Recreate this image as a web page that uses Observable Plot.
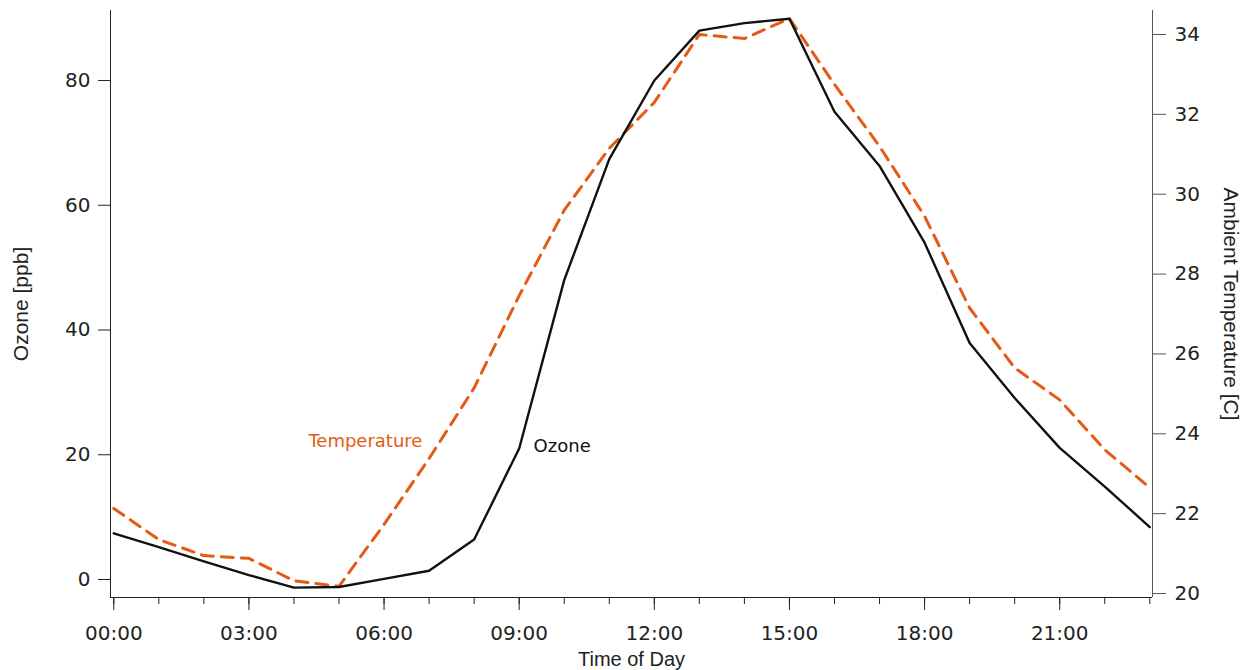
<!DOCTYPE html>
<html>
<head>
<meta charset="utf-8">
<script src="https://cdn.jsdelivr.net/npm/d3@7"></script>
<script src="https://cdn.jsdelivr.net/npm/@observablehq/plot@0.6"></script>
<style>
  html, body { margin: 0; padding: 0; background: #fff; }
  #chart { width: 1244px; height: 670px; overflow: hidden; }
</style>
</head>
<body>
<div id="chart"></div>
<script>
// Hourly diurnal profile
const hours = [0, 1, 2, 3, 4, 5, 6, 7, 8, 9, 10, 11, 12, 13, 14, 15, 16, 17, 18, 19, 20, 21, 22, 23];
const ozone = [7.4, 5.2, 2.9, 0.7, -1.3, -1.2, 0.1, 1.4, 6.4, 21.0, 48.0, 67.4, 80.0, 88.0, 89.2, 89.9, 75.0, 66.3, 54.0, 37.9, 29.1, 21.1, 14.9, 8.4];
const temperature = [22.13, 21.35, 20.95, 20.88, 20.32, 20.18, 21.73, 23.38, 25.15, 27.46, 29.6, 31.15, 32.3, 34.0, 33.9, 34.4, 32.75, 31.2, 29.45, 27.15, 25.65, 24.85, 23.6, 22.65];

// Tick values
const majorHours = [0, 3, 6, 9, 12, 15, 18, 21];
const ozoneTicks = [0, 20, 40, 60, 80];
const tempTicks = [20, 22, 24, 26, 28, 30, 32, 34];

const xDomain = [-0.073, 23.06];
const yDomain = [-2.886, 91.22];

// Temperature shares the plot's y scale through this linear mapping (right axis)
const tempToOzone = d3.scaleLinear().domain([20, 34]).range([-2.245, 87.37]);

const rows = hours.map((h, i) => ({hour: h, ozone: ozone[i], temp: temperature[i]}));
const hhmm = h => String(h).padStart(2, "0") + ":00";

const ink = "#222";
const orange = "#e35b16";
const titleFont = "Liberation Sans";

const chart = Plot.plot({
  width: 1244,
  height: 670,
  marginLeft: 110,
  marginRight: 92,
  marginTop: 10,
  marginBottom: 73,
  x: {domain: xDomain},
  y: {domain: yDomain},
  style: {fontFamily: "DejaVu Sans", fontSize: "20px", color: ink, background: "#fff"},
  marks: [
    // hour ticks and labelled 3-hour ticks
    Plot.axisX(hours, {tickSize: 7, tickFormat: () => "", label: null}),
    Plot.axisX(majorHours, {tickSize: 13, tickPadding: 15, tickFormat: hhmm, fontSize: 20, label: null}),
    // left ozone axis
    Plot.axisY(ozoneTicks, {anchor: "left", tickSize: 12, tickPadding: 8, fontSize: 20, label: null}),
    // right temperature axis
    Plot.axisY(tempTicks.map(tempToOzone), {
      anchor: "right", tickSize: 13, tickPadding: 9, fontSize: 20, stroke: "#555", label: null,
      tickFormat: v => String(Math.round(tempToOzone.invert(v)))
    }),
    // axis lines
    Plot.ruleX([xDomain[0]], {stroke: ink}),
    Plot.ruleY([yDomain[0]], {stroke: ink}),
    Plot.ruleX([xDomain[1]], {stroke: "#555"}),
    // series
    Plot.line(rows, {x: "hour", y: d => tempToOzone(d.temp), stroke: orange, strokeWidth: 3, strokeDasharray: "12,8"}),
    Plot.line(rows, {x: "hour", y: "ozone", stroke: "#111", strokeWidth: 2.4}),
    // series labels
    Plot.text(["Temperature"], {x: 4.32, y: 21.2, text: d => d, textAnchor: "start", lineAnchor: "bottom", fill: orange, fontSize: 18}),
    Plot.text(["Ozone"], {x: 9.32, y: 20.4, text: d => d, textAnchor: "start", lineAnchor: "bottom", fill: "#111", fontSize: 18}),
    // axis titles
    Plot.text(["Ozone [ppb]"], {frameAnchor: "left", dx: -89, rotate: -90, textAnchor: "middle", text: d => d, fontFamily: titleFont, fontSize: 21, fill: ink}),
    Plot.text(["Ambient Temperature [C]"], {frameAnchor: "right", dx: 78, rotate: 90, textAnchor: "middle", text: d => d, fontFamily: titleFont, fontSize: 21, fill: ink}),
    Plot.text(["Time of Day"], {frameAnchor: "bottom", dy: 68, lineAnchor: "bottom", textAnchor: "middle", text: d => d, fontFamily: titleFont, fontSize: 20, fill: ink})
  ]
});

document.getElementById("chart").append(chart);
</script>
</body>
</html>
